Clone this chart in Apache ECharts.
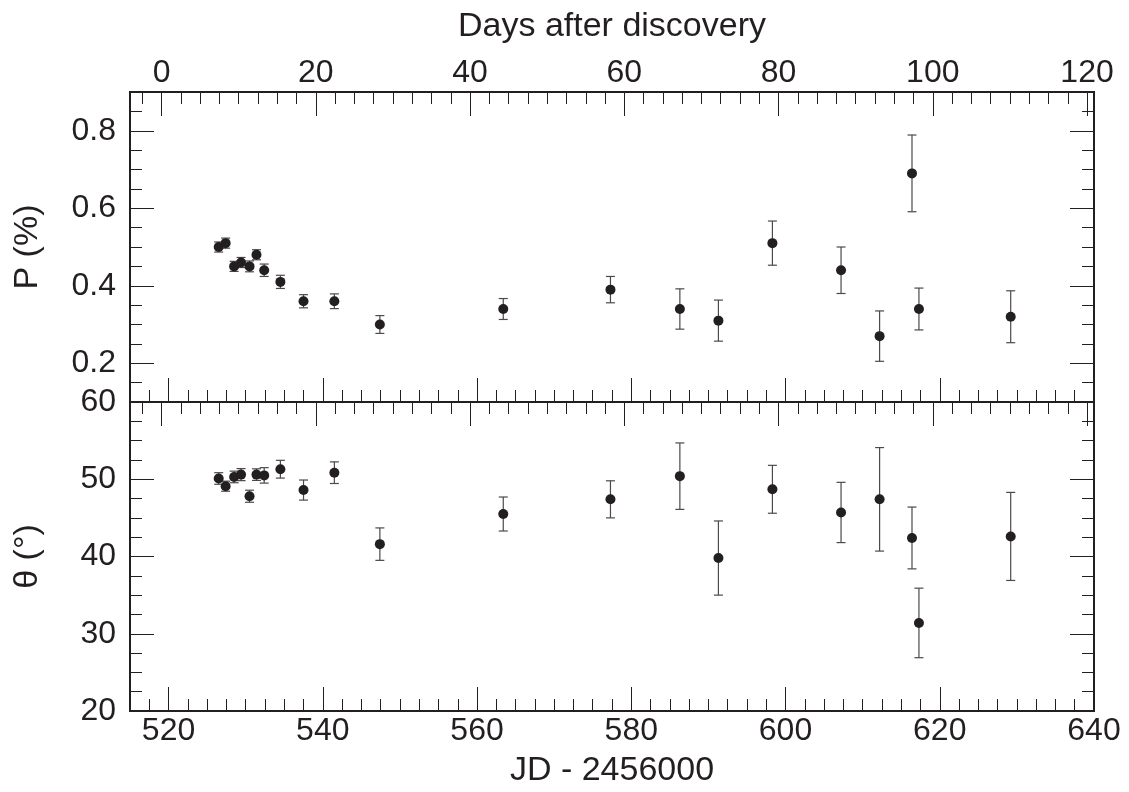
<!DOCTYPE html>
<html><head><meta charset="utf-8">
<script src="https://cdn.jsdelivr.net/npm/echarts@6/dist/echarts.min.js"></script>
<style>html,body{margin:0;padding:0;background:#fff}#c{width:1129px;height:792px}</style>
</head><body><div id="c"></div>
<script>
// ---- data ----
const jd       = [526.5, 527.4, 528.5, 529.4, 530.5, 531.4, 532.4, 534.5, 537.5, 541.5, 547.4, 563.4, 577.3, 586.3, 591.3, 598.3, 607.2, 612.2, 616.4, 617.3, 629.2];
const pol      = [0.50, 0.51, 0.45, 0.46, 0.45, 0.48, 0.44, 0.41, 0.36, 0.36, 0.30, 0.34, 0.39, 0.34, 0.31, 0.51, 0.44, 0.27, 0.69, 0.34, 0.32];
const polErr   = [0.013, 0.013, 0.013, 0.013, 0.014, 0.013, 0.016, 0.017, 0.017, 0.019, 0.023, 0.027, 0.034, 0.052, 0.053, 0.057, 0.060, 0.065, 0.099, 0.054, 0.067];
const theta    = [50.1, 49.1, 50.3, 50.6, 47.8, 50.6, 50.5, 51.3, 48.6, 50.85, 41.6, 45.5, 47.4, 50.4, 39.8, 48.7, 45.7, 47.4, 42.4, 31.4, 42.6];
const thetaErr = [0.75, 0.65, 0.75, 0.78, 0.78, 0.75, 1.0, 1.15, 1.3, 1.4, 2.1, 2.2, 2.4, 4.3, 4.8, 3.1, 3.9, 6.7, 4.0, 4.5, 5.7];

// ---- tick labels ----
const jdTicks    = [520, 540, 560, 580, 600, 620, 640];
const dayTicks   = [0, 20, 40, 60, 80, 100, 120];
const pTicks     = [0.2, 0.4, 0.6, 0.8];
const thetaTicks = [20, 30, 40, 50, 60];

const JD_MIN = 515, JD_MAX = 640, DAY_ZERO = 519.1;
const P_MIN = 0.1, P_MAX = 0.9, TH_MIN = 20, TH_MAX = 60;

function steps(a, b, s) { const out = []; for (let v = a; v <= b + 1e-9; v += s) out.push(Math.round(v * 1000) / 1000); return out; }
const jdMinor  = steps(517.5, 637.5, 2.5);
const dayMinor = steps(-2.5, 120, 2.5);
const pMinor   = steps(0.15, 0.85, 0.05);
const thMinor  = steps(22.5, 57.5, 2.5);

const INK = '#231f20';
const FONT = "'Liberation Sans', Arial, sans-serif";
const MAJ = 24, MIN = 12;

function ax(grid, pos, min, max, ticks, len, extra) {
  return Object.assign({
    type: 'value', gridIndex: grid, position: pos, min: min, max: max,
    axisLine: { show: true, onZero: false, lineStyle: { color: INK, width: 2 } },
    axisTick: { show: true, inside: true, length: len, customValues: ticks, lineStyle: { color: INK, width: 1 } },
    axisLabel: { show: false },
    splitLine: { show: false },
    minorTick: { show: false },
    silent: true
  }, extra || {});
}
function lab(ticks, margin, fmt) {
  return { show: true, customValues: ticks, fontSize: 32, color: INK, fontFamily: FONT, margin: margin, formatter: fmt };
}
const nameStyle = { fontSize: 34, color: INK, fontFamily: FONT };
const dMin = JD_MIN - DAY_ZERO, dMax = JD_MAX - DAY_ZERO;

const xAxes = [
  ax(0, 'bottom', JD_MIN, JD_MAX, jdMinor, MIN),
  ax(0, 'bottom', JD_MIN, JD_MAX, jdTicks, MAJ),
  ax(0, 'top', dMin, dMax, dayMinor, MIN),
  ax(0, 'top', dMin, dMax, dayTicks, MAJ, {
    axisLabel: lab(dayTicks, 3, v => String(v)),
    name: 'Days after discovery', nameLocation: 'middle', nameGap: 48, nameTextStyle: nameStyle
  }),
  ax(1, 'bottom', JD_MIN, JD_MAX, jdMinor, MIN),
  ax(1, 'bottom', JD_MIN, JD_MAX, jdTicks, MAJ, {
    axisLabel: lab(jdTicks, 4, v => String(v)),
    name: 'JD - 2456000', nameLocation: 'middle', nameGap: 43, nameTextStyle: nameStyle
  }),
  ax(1, 'top', dMin, dMax, dayMinor, MIN),
  ax(1, 'top', dMin, dMax, dayTicks, MAJ)
];
const yAxes = [
  ax(0, 'left', P_MIN, P_MAX, pMinor, MIN),
  ax(0, 'left', P_MIN, P_MAX, pTicks, MAJ, {
    axisLabel: lab(pTicks, 14, v => Number(v).toFixed(1)),
    name: 'P (%)', nameLocation: 'middle', nameGap: 85, nameTextStyle: nameStyle
  }),
  ax(0, 'right', P_MIN, P_MAX, pMinor, MIN),
  ax(0, 'right', P_MIN, P_MAX, pTicks, MAJ),
  ax(1, 'left', TH_MIN, TH_MAX, thMinor, MIN),
  ax(1, 'left', TH_MIN, TH_MAX, thetaTicks, MAJ, {
    axisLabel: lab(thetaTicks, 14, v => String(v)),
    name: 'θ (°)', nameLocation: 'middle', nameGap: 85, nameTextStyle: nameStyle
  }),
  ax(1, 'right', TH_MIN, TH_MAX, thMinor, MIN),
  ax(1, 'right', TH_MIN, TH_MAX, thetaTicks, MAJ)
];

function errSeries(xi, yi, vals, errs) {
  return {
    type: 'custom', xAxisIndex: xi, yAxisIndex: yi, silent: true, z: 2,
    data: jd.map((x, i) => [x, vals[i] - errs[i], vals[i] + errs[i]]),
    encode: { x: 0, y: [1, 2] },
    renderItem: function (params, api) {
      const lo = api.coord([api.value(0), api.value(1)]);
      const hi = api.coord([api.value(0), api.value(2)]);
      const w = 4.5, st = { stroke: '#4a4a4a', lineWidth: 1.2 };
      return { type: 'group', children: [
        { type: 'line', shape: { x1: lo[0], y1: lo[1], x2: hi[0], y2: hi[1] }, style: st },
        { type: 'line', shape: { x1: lo[0] - w, y1: lo[1], x2: lo[0] + w, y2: lo[1] }, style: st },
        { type: 'line', shape: { x1: hi[0] - w, y1: hi[1], x2: hi[0] + w, y2: hi[1] }, style: st }
      ] };
    }
  };
}
function dots(xi, yi, vals) {
  return {
    type: 'scatter', xAxisIndex: xi, yAxisIndex: yi, z: 3, symbol: 'circle', symbolSize: 10,
    itemStyle: { color: INK, opacity: 1 },
    data: jd.map((x, i) => [x, vals[i]])
  };
}

const chart = echarts.init(document.getElementById('c'), null, { renderer: 'canvas' });
chart.setOption({
  animation: false,
  backgroundColor: '#ffffff',
  grid: [
    { left: 130, right: 35, top: 92, height: 310 },
    { left: 130, right: 35, top: 402, height: 309 }
  ],
  xAxis: xAxes,
  yAxis: yAxes,
  series: [
    errSeries(0, 0, pol, polErr), dots(0, 0, pol),
    errSeries(4, 4, theta, thetaErr), dots(4, 4, theta)
  ]
});
</script>
</body></html>
